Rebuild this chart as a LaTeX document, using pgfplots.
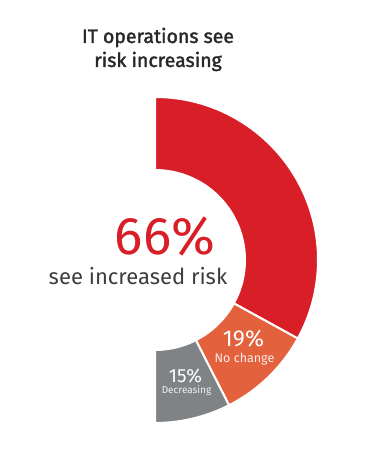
\documentclass[border=0pt]{standalone}
\usepackage{pgfplots}
\pgfplotsset{compat=1.18}
\usepackage{pgfplotstable}
\usepackage{fontspec}
\setmainfont{Fira Sans}
\newfontfamily\titlefont{Fira Sans}[BoldFont={Fira Sans}, BoldFeatures={FakeBold=1.8}]
\definecolor{ered}{RGB}{216,30,39}
\definecolor{eorange}{RGB}{228,97,62}
\definecolor{egray}{RGB}{128,131,134}
\definecolor{etext}{RGB}{40,40,40}

% one table per series: centre of donut (x,y), share in %, cumulative share before it
\pgfplotstableread{
x y value before
155 200 66 0
}\increasing
\pgfplotstableread{
x y value before
155 200 19 66
}\nochange
\pgfplotstableread{
x y value before
155 200 15 85
}\decreasing

\pgfplotsset{sector/.style={
  only marks, scatter, mark=*, mark size=0.1pt, point meta=y,
  visualization depends on={\thisrow{value}\as\val},
  visualization depends on={\thisrow{before}\as\bef},
  scatter/@pre marker code/.code={%
    \pgfmathsetmacro\sa{90-1.8*\bef}%
    \pgfmathsetmacro\ea{90-1.8*(\bef+\val)}%
    \fill[#1, draw=white, line width=2pt] (\sa:90pt) -- (\sa:163pt)
      arc[start angle=\sa, end angle=\ea, radius=163pt] -- (\ea:90pt)
      arc[start angle=\ea, end angle=\sa, radius=90pt] -- cycle;
    \pgfscope\pgfsetfillopacity{0}\pgfsetstrokeopacity{0}%
  },
  scatter/@post marker code/.code={\endpgfscope},
}}

\begin{document}
\begin{tikzpicture}
\begin{axis}[x=1pt, y=1pt, xmin=0, xmax=372, ymin=0, ymax=460,
  hide axis, clip=false, anchor=origin, at={(0pt,0pt)}]
\path (rel axis cs:0,0) rectangle (rel axis cs:1,1);
\addplot[sector=ered] table[x=x, y=y] {\increasing};
\addplot[sector=eorange] table[x=x, y=y] {\nochange};
\addplot[sector=egray] table[x=x, y=y] {\decreasing};
\end{axis}
% labels (axis units are 1pt with origin at (0,0))
\node[anchor=base, text=etext, font=\titlefont\bfseries\fontsize{19.5}{23}\selectfont] at (158pt,417pt) {IT operations see};
\node[anchor=base, text=etext, font=\titlefont\bfseries\fontsize{19.5}{23}\selectfont] at (158pt,393pt) {risk increasing};

\node[anchor=base, text=ered, font=\fontsize{53}{56}\selectfont] at (165pt,205pt) {66\%};
\node[anchor=base, text=etext!90, font=\fontsize{22}{26}\selectfont] at (138pt,175pt) {see increased risk};

\node[anchor=base, text=white, font=\fontsize{23}{26}\selectfont] at (243.5pt,113pt) {19\%};
\node[anchor=base, text=white!88!eorange, font=\fontsize{12.5}{14}\selectfont] at (244.5pt,97pt) {No change};
\node[anchor=base, text=white, font=\fontsize{19}{22}\selectfont] at (185.5pt,77pt) {15\%};
\node[anchor=base, text=white!88!egray, font=\fontsize{10}{12}\selectfont] at (186.5pt,66pt) {Decreasing};
\end{tikzpicture}
\end{document}
